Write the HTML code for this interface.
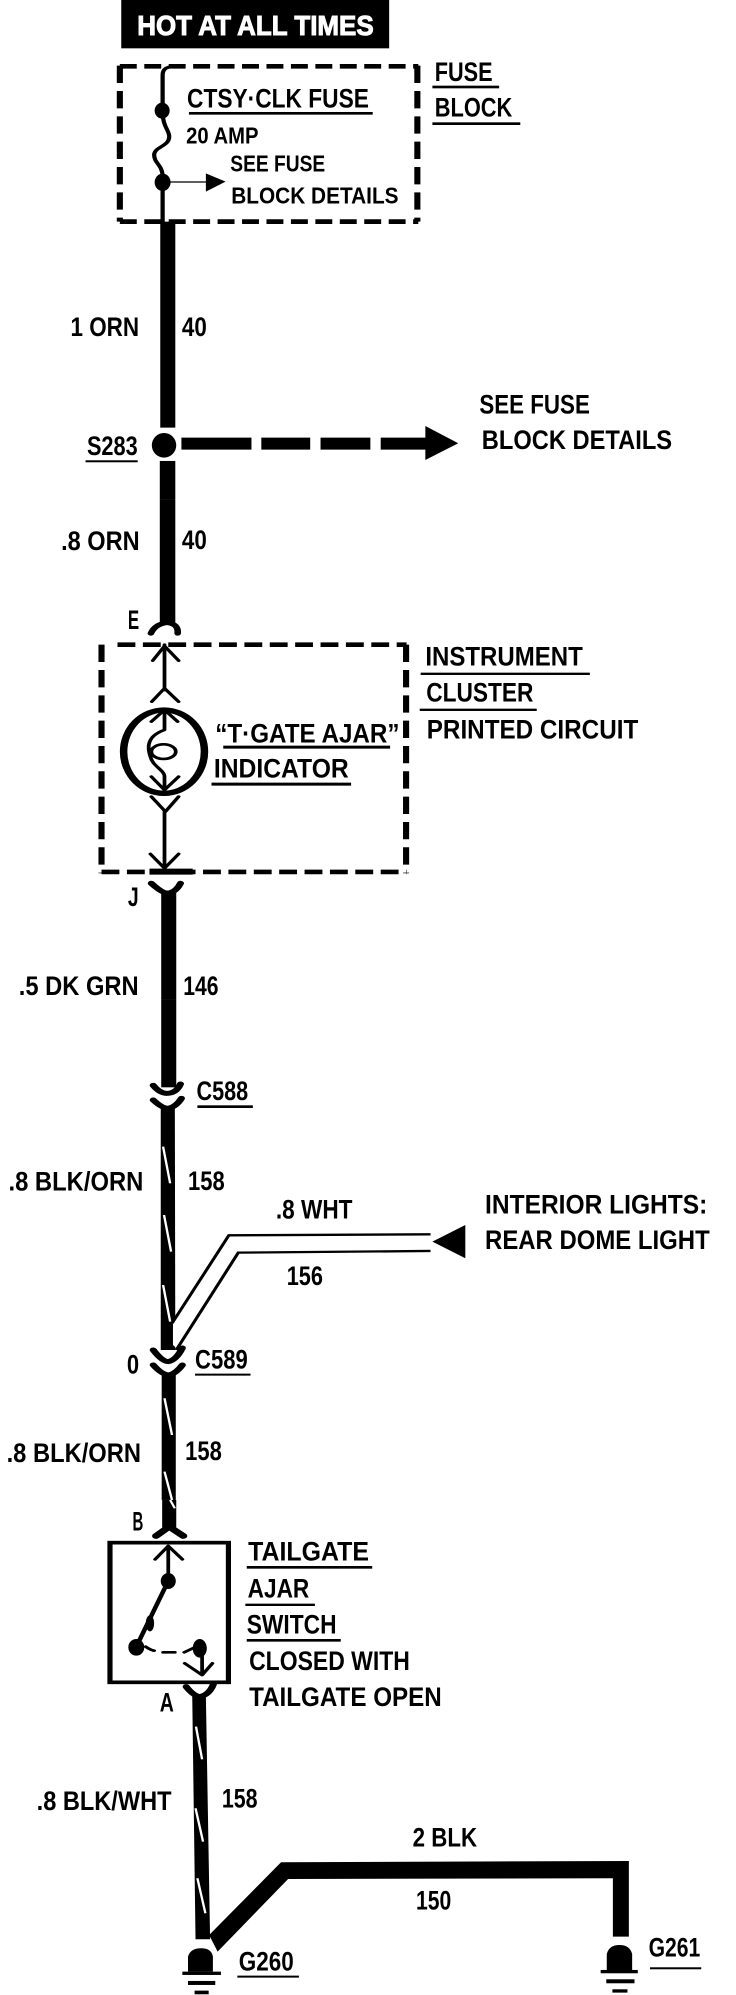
<!DOCTYPE html>
<html><head><meta charset="utf-8"><style>
html,body{margin:0;padding:0;background:#fff;width:736px;height:1995px;overflow:hidden}
svg{display:block}
text{font-family:"Liberation Sans",sans-serif;font-weight:700;fill:#000;font-size:80px}
.s{font-size:70px}
.w{fill:none;stroke:#000;stroke-linecap:round;stroke-linejoin:round}
.st{stroke:#fff;stroke-width:5;fill:none}
</style></head><body>
<svg xmlns="http://www.w3.org/2000/svg" width="736" height="1995" viewBox="0 0 736 1995">
<g transform="translate(0,0) scale(.47,.3333)">
<rect x="258" y="0" width="570" height="145"/>
<text x="292" y="105" textLength="503" lengthAdjust="spacingAndGlyphs" style="fill:#fff;stroke:#fff;stroke-width:3;font-size:84px">HOT AT ALL TIMES</text>
<g class="w" stroke-width="13" style="stroke-linecap:butt">
<path d="M255 199H890" stroke-dasharray="36 16" stroke-width="14"/>
<path d="M255 665H890" stroke-dasharray="36 16" stroke-width="14"/>
<path d="M255 197V665" stroke-dasharray="52 24"/>
<path d="M888 197V665" stroke-dasharray="52 24"/>
</g>
<path class="w" stroke-width="9" d="M372 199Q346 199 346 225V335C346 380 360 390 360 410C360 440 328 440 328 465C328 490 346 495 346 530V670"/>
<ellipse cx="345" cy="332" rx="16" ry="24"/><ellipse cx="346" cy="547" rx="17" ry="26"/>
<path class="w" stroke-width="4" d="M360 546H440"/><polygon points="438,520 480,545 438,575"/>
<text x="398" y="322" textLength="387" lengthAdjust="spacingAndGlyphs">CTSY·CLK FUSE</text>
<rect x="402" y="336" width="391" height="8"/>
<text class="s" x="396" y="430" textLength="154" lengthAdjust="spacingAndGlyphs">20 AMP</text>
<text class="s" x="490" y="515" textLength="202" lengthAdjust="spacingAndGlyphs">SEE FUSE</text>
<text class="s" x="492" y="610" textLength="356" lengthAdjust="spacingAndGlyphs">BLOCK DETAILS</text>
<text x="925" y="243" textLength="123" lengthAdjust="spacingAndGlyphs">FUSE</text>
<rect x="920" y="257" width="142" height="8"/>
<text x="925" y="350" textLength="165" lengthAdjust="spacingAndGlyphs">BLOCK</text>
<rect x="920" y="367" width="187" height="8"/>
<rect x="341" y="665" width="32" height="618"/>
<text x="150" y="1008" textLength="146" lengthAdjust="spacingAndGlyphs">1 ORN</text>
<text x="387" y="1008" textLength="53" lengthAdjust="spacingAndGlyphs">40</text>
<text x="185" y="1365" textLength="108" lengthAdjust="spacingAndGlyphs">S283</text>
<rect x="182" y="1381" width="111" height="6"/>
<ellipse cx="349" cy="1336" rx="26" ry="37"/>
<rect x="340" y="1383" width="33" height="117"/>
<rect x="386" y="1313" width="149" height="36"/><rect x="556" y="1313" width="104" height="36"/><rect x="682" y="1313" width="106" height="36"/><rect x="810" y="1313" width="96" height="36"/>
<polygon points="905,1278 975,1330 905,1380"/>
<text x="1020" y="1240" textLength="235" lengthAdjust="spacingAndGlyphs">SEE FUSE</text>
<text x="1025" y="1347" textLength="405" lengthAdjust="spacingAndGlyphs">BLOCK DETAILS</text>
</g>
<g transform="translate(0,500) scale(.47,.3333)">
<rect x="340" y="0" width="33" height="374"/>
<text x="130" y="150" textLength="167" lengthAdjust="spacingAndGlyphs">.8 ORN</text>
<text x="387" y="147" textLength="53" lengthAdjust="spacingAndGlyphs">40</text>
<text x="272" y="387" textLength="24" lengthAdjust="spacingAndGlyphs">E</text>
<path class="w" stroke-width="14" d="M321 400Q330 372 356 368Q380 372 378 400"/>
<g class="w" stroke-width="13" style="stroke-linecap:butt">
<path d="M250 434H865" stroke-dasharray="38 16" stroke-width="14"/>
<path d="M216 1116H865" stroke-dasharray="38 16" stroke-width="14"/>
<path d="M216 434V1120" stroke-dasharray="52 24"/>
<path d="M864 434V1120" stroke-dasharray="52 24"/>
</g>
<rect x="318" y="1106" width="92" height="18"/>
<g class="w" stroke-width="8">
<path d="M350 434V570M325 482L350 438L380 482M323 605L350 565L380 605"/>
<path d="M322 665L350 630L378 665M350 630V690C320 705 310 730 320 770C325 800 350 810 350 830V870M322 830L350 870L380 830"/>
<path d="M322 890L352 935L380 890M350 935V1110M320 1062L350 1105L380 1062"/>
</g>
<ellipse class="w" stroke-width="16" cx="349" cy="755" rx="86" ry="125"/>
<ellipse class="w" stroke-width="8" cx="348" cy="755" rx="26" ry="22"/>
<text x="458" y="728" textLength="392" lengthAdjust="spacingAndGlyphs">“T·GATE AJAR”</text>
<rect x="475" y="737" width="355" height="9"/>
<text x="455" y="832" textLength="287" lengthAdjust="spacingAndGlyphs">INDICATOR</text>
<rect x="450" y="848" width="297" height="9"/>
<text x="905" y="497" textLength="335" lengthAdjust="spacingAndGlyphs">INSTRUMENT</text>
<rect x="895" y="518" width="360" height="7"/>
<text x="907" y="605" textLength="228" lengthAdjust="spacingAndGlyphs">CLUSTER</text>
<rect x="893" y="626" width="249" height="7"/>
<text x="908" y="715" textLength="450" lengthAdjust="spacingAndGlyphs">PRINTED CIRCUIT</text>
<text x="272" y="1218" textLength="23" lengthAdjust="spacingAndGlyphs">J</text>
<path class="w" stroke-width="15" d="M322 1150Q345 1180 358 1180Q375 1175 384 1150"/>
<rect x="343" y="1172" width="32" height="328"/>
<text x="40" y="1485" textLength="255" lengthAdjust="spacingAndGlyphs">.5 DK GRN</text>
<text x="390" y="1485" textLength="75" lengthAdjust="spacingAndGlyphs">146</text>
</g>
<g transform="translate(0,1000) scale(.47,.3333)">
<rect x="343" y="0" width="32" height="262"/>
<path class="w" stroke-width="15" d="M326 256Q340 280 355 280Q375 280 384 252M326 300Q345 325 358 325Q375 320 386 295"/>
<polygon points="342,320 372,320 373,1050 342,1050"/>
<path class="st" d="M347 440L362 550M349 645L364 755M347 855L362 965"/>
<text x="418" y="300" textLength="110" lengthAdjust="spacingAndGlyphs">C588</text>
<rect x="420" y="316" width="118" height="8"/>
<text x="18" y="572" textLength="287" lengthAdjust="spacingAndGlyphs">.8 BLK/ORN</text>
<text x="400" y="570" textLength="78" lengthAdjust="spacingAndGlyphs">158</text>
<polygon points="368,1035 368,970 487,705 512,755 380,1050" fill="#fff"/>
<path fill="none" stroke="#000" stroke-width="7" d="M366 970L487 706L916 703"/>
<path fill="none" stroke="#000" stroke-width="7" d="M375 1050L507 758L916 753"/>
<text x="587" y="655" textLength="163" lengthAdjust="spacingAndGlyphs">.8 WHT</text>
<text x="610" y="855" textLength="77" lengthAdjust="spacingAndGlyphs">156</text>
<polygon points="990,675 920,725 990,775"/>
<text x="1032" y="640" textLength="473" lengthAdjust="spacingAndGlyphs">INTERIOR LIGHTS:</text>
<text x="1032" y="747" textLength="478" lengthAdjust="spacingAndGlyphs">REAR DOME LIGHT</text>
<path class="w" stroke-width="15" d="M326 1050Q345 1085 358 1085Q375 1080 388 1044M326 1095Q345 1125 360 1125Q375 1120 388 1095"/>
<text x="270" y="1120" textLength="26" lengthAdjust="spacingAndGlyphs">0</text>
<text x="415" y="1105" textLength="112" lengthAdjust="spacingAndGlyphs">C589</text>
<rect x="415" y="1121" width="118" height="6"/>
<rect x="344" y="1122" width="30" height="378"/>
<path class="st" d="M350 1195L366 1305M350 1415L366 1500"/>
<text x="394" y="1380" textLength="78" lengthAdjust="spacingAndGlyphs">158</text>
<text x="14" y="1386" textLength="286" lengthAdjust="spacingAndGlyphs">.8 BLK/ORN</text>
</g>
<g transform="translate(0,1500) scale(.47,.3333)">
<rect x="345" y="0" width="30" height="82"/>
<path class="st" d="M362 0L372 25"/>
<text x="282" y="92" textLength="23" lengthAdjust="spacingAndGlyphs">B</text>
<path class="w" stroke-width="17" d="M332 108L360 80L390 108"/>
<rect x="234" y="128" width="252" height="419" fill="none" stroke="#000" stroke-width="11"/>
<g class="w" stroke-width="8">
<path d="M330 178L358 138L388 178M358 138V225"/>
<path d="M358 243L290 440" stroke-width="10"/>
<path d="M310 440Q320 450 328 452M347 457H372M392 457L410 445M430 470V525M393 490L430 525L452 490"/>
</g>
<ellipse cx="358" cy="243" rx="16" ry="24"/><ellipse cx="290" cy="442" rx="17" ry="25"/><ellipse cx="425" cy="445" rx="15" ry="28"/>
<ellipse cx="319" cy="370" rx="9" ry="24"/>
<text x="528" y="182" textLength="257" lengthAdjust="spacingAndGlyphs">TAILGATE</text>
<rect x="525" y="198" width="267" height="8"/>
<text x="527" y="293" textLength="131" lengthAdjust="spacingAndGlyphs">AJAR</text>
<rect x="522" y="311" width="148" height="7"/>
<text x="525" y="400" textLength="191" lengthAdjust="spacingAndGlyphs">SWITCH</text>
<rect x="525" y="417" width="200" height="8"/>
<text x="530" y="510" textLength="342" lengthAdjust="spacingAndGlyphs">CLOSED WITH</text>
<text x="530" y="618" textLength="410" lengthAdjust="spacingAndGlyphs">TAILGATE OPEN</text>
<text x="340" y="635" textLength="30" lengthAdjust="spacingAndGlyphs">A</text>
<path class="w" stroke-width="15" d="M396 560Q412 588 425 590Q445 585 454 553"/>
<polygon points="409,585 438,585 447,1318 416,1318"/>
<path class="st" d="M417 680L430 778M416 925L432 1025M420 1135L437 1240"/>
<polygon points="445,1305 598,1087 1338,1083 1338,1310 1304,1310 1304,1135 613,1137 463,1355"/>
<text x="78" y="930" textLength="287" lengthAdjust="spacingAndGlyphs">.8 BLK/WHT</text>
<text x="472" y="922" textLength="76" lengthAdjust="spacingAndGlyphs">158</text>
<text x="878" y="1040" textLength="137" lengthAdjust="spacingAndGlyphs">2 BLK</text>
<text x="885" y="1228" textLength="75" lengthAdjust="spacingAndGlyphs">150</text>
<path d="M400 1415V1370Q405 1345 428 1345Q450 1345 453 1370V1415Z"/>
<rect x="388" y="1415" width="82" height="10"/><rect x="400" y="1443" width="58" height="12"/><rect x="414" y="1472" width="30" height="11"/>
<text x="508" y="1412" textLength="117" lengthAdjust="spacingAndGlyphs">G260</text>
<rect x="505" y="1427" width="131" height="6"/>
<path d="M1291 1410V1362Q1296 1335 1318 1335Q1340 1335 1345 1362V1410Z"/>
<rect x="1278" y="1410" width="79" height="10"/><rect x="1290" y="1438" width="60" height="12"/><rect x="1303" y="1468" width="32" height="10"/>
<text x="1380" y="1370" textLength="110" lengthAdjust="spacingAndGlyphs">G261</text>
<rect x="1383" y="1402" width="109" height="6"/>
</g>
</svg>
</body></html>
